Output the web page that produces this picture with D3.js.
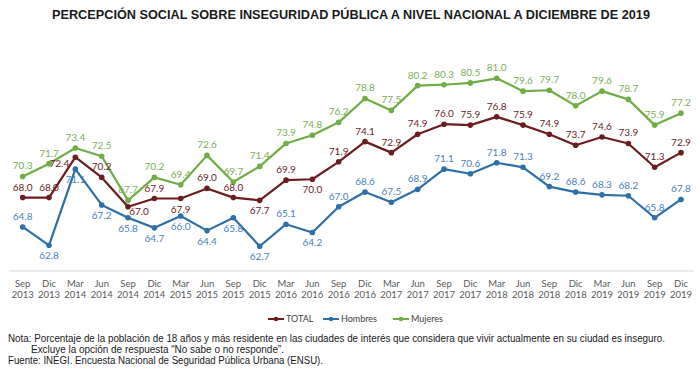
<!DOCTYPE html>
<html>
<head>
<meta charset="utf-8">
<script src="https://cdn.jsdelivr.net/npm/d3@7"></script>
<style>
  body { margin: 0; background: #fff; }
  svg { display: block; }
</style>
</head>
<body>
<svg id="chart" width="700" height="369"></svg>
<script>
// periodos (mes / año)
var meses = ["Sep","Dic","Mar","Jun","Sep","Dic","Mar","Jun","Sep","Dic","Mar","Jun","Sep","Dic","Mar","Jun","Sep","Dic","Mar","Jun","Sep","Dic","Mar","Jun","Sep","Dic"];
var anios = ["2013","2013","2014","2014","2014","2014","2015","2015","2015","2015","2016","2016","2016","2016","2017","2017","2017","2017","2018","2018","2018","2018","2019","2019","2019","2019"];

var total   = [68.0,68.0,72.4,70.2,67.0,67.9,67.9,69.0,68.0,67.7,69.9,70.0,71.9,74.1,72.9,74.9,76.0,75.9,76.8,75.9,74.9,73.7,74.6,73.9,71.3,72.9];
var hombres = [64.8,62.8,71.1,67.2,65.8,64.7,66.0,64.4,65.8,62.7,65.1,64.2,67.0,68.6,67.5,68.9,71.1,70.6,71.8,71.3,69.2,68.6,68.3,68.2,65.8,67.8];
var mujeres = [70.3,71.7,73.4,72.5,67.7,70.2,69.4,72.6,69.7,71.4,73.9,74.8,76.2,78.8,77.5,80.2,80.3,80.5,81.0,79.6,79.7,78.0,79.6,78.7,75.9,77.2];

// donde va cada etiqueta: a = arriba, b = abajo, l = izquierda, r = derecha
var posTotal   = "aalarabaababaaaaaaaaaaaaaa".split("");
var posHombres = "abbbbbbbbbabaaaaaaaaaaaaaa".split("");
var posMujeres = "aaaaaaaaaaaaaaaaaaaaaaaaaa".split("");

var svg = d3.select("#chart");
var idx = d3.range(meses.length);

var x = d3.scalePoint().domain(idx).range([22.7, 681]);
var y = d3.scaleLinear().domain([60, 81]).range([271, 78.3]);

svg.append("text")
    .attr("x", 351).attr("y", 19)
    .attr("text-anchor", "middle")
    .attr("textLength", 598).attr("lengthAdjust", "spacingAndGlyphs")
    .style("font", "bold 13px 'Liberation Sans', Arial, sans-serif")
    .attr("fill", "#1a1a1a")
    .text("PERCEPCIÓN SOCIAL SOBRE INSEGURIDAD PÚBLICA A NIVEL NACIONAL A DICIEMBRE DE 2019");

// eje horizontal
svg.append("line")
    .attr("x1", 9).attr("x2", 694)
    .attr("y1", y(60)).attr("y2", y(60))
    .attr("stroke", "#d9d9d9").attr("stroke-width", 1);

var xt = svg.append("g").selectAll("text")
    .data(idx).enter().append("text")
    .attr("text-anchor", "middle")
    .attr("fill", "#595959")
    .style("font", "9.5px Lato, 'Open Sans', sans-serif");
xt.append("tspan").attr("x", function(i) { return x(i); }).attr("y", 287).text(function(i) { return meses[i]; });
xt.append("tspan").attr("x", function(i) { return x(i); }).attr("y", 298).text(function(i) { return anios[i]; });

var series = [
  {name: "Mujeres", vals: mujeres, pos: posMujeres, color: "#70ad47", label: "#7aaf55"},
  {name: "TOTAL",   vals: total,   pos: posTotal,   color: "#6b1d1f", label: "#6b1d1f"},
  {name: "Hombres", vals: hombres, pos: posHombres, color: "#2e6fa8", label: "#4a7fc1"}
];

var line = d3.line()
    .x(function(d, i) { return x(i); })
    .y(function(d) { return y(d); });

series.forEach(function(s) {
  var g = svg.append("g");
  g.append("path")
      .attr("d", line(s.vals))
      .attr("fill", "none")
      .attr("stroke", s.color)
      .attr("stroke-width", 2.2)
      .attr("stroke-linejoin", "round");
  g.selectAll("circle")
      .data(s.vals).enter().append("circle")
      .attr("cx", function(d, i) { return x(i); })
      .attr("cy", function(d) { return y(d); })
      .attr("r", 2.8)
      .attr("fill", s.color);
  g.selectAll("text")
      .data(s.vals).enter().append("text")
      .attr("x", function(d, i) {
        var p = s.pos[i];
        if (p == "l") return x(i) - 16;
        if (p == "r") return x(i) + 11;
        return x(i);
      })
      .attr("y", function(d, i) {
        var p = s.pos[i];
        if (p == "a") return y(d) - 7;
        if (p == "b") return y(d) + 14;
        if (p == "l") return y(d) + 10;
        return y(d) + 8;
      })
      .attr("text-anchor", "middle")
      .attr("fill", s.label)
      .style("font", "10px Lato, 'Open Sans', sans-serif")
      .text(function(d) { return d.toFixed(1); });
});

// leyenda
var leyenda = [
  {name: "TOTAL", color: "#6b1d1f", x0: 268},
  {name: "Hombres", color: "#2e6fa8", x0: 323},
  {name: "Mujeres", color: "#70ad47", x0: 393}
];
var lg = svg.append("g").selectAll("g").data(leyenda).enter().append("g")
    .attr("transform", function(d) { return "translate(" + d.x0 + ",319)"; });
lg.append("line").attr("x1", 0).attr("x2", 16).attr("stroke", function(d) { return d.color; }).attr("stroke-width", 2);
lg.append("circle").attr("cx", 8).attr("r", 2.3).attr("fill", function(d) { return d.color; });
lg.append("text").attr("x", 18).attr("y", 3.2)
    .attr("fill", "#404040")
    .style("font", "9px Lato, 'Open Sans', sans-serif")
    .text(function(d) { return d.name; });

var notas = [
  {t: "Nota: Porcentaje de la población de 18 años y más residente en las ciudades de interés que considera que vivir actualmente en su ciudad es inseguro.", x: 8, y: 342, w: 657},
  {t: "Excluye la opción de respuesta \u201CNo sabe o no responde\u201D.", x: 31, y: 353, w: 253},
  {t: "Fuente: INEGI. Encuesta Nacional de Seguridad Pública Urbana (ENSU).", x: 8, y: 364, w: 315}
];
svg.append("g").selectAll("text").data(notas).enter().append("text")
    .attr("x", function(d) { return d.x; })
    .attr("y", function(d) { return d.y; })
    .attr("textLength", function(d) { return d.w; })
    .attr("lengthAdjust", "spacingAndGlyphs")
    .attr("fill", "#1a1a1a")
    .style("font", "10px 'Liberation Sans', Arial, sans-serif")
    .text(function(d) { return d.t; });
</script>
</body>
</html>
